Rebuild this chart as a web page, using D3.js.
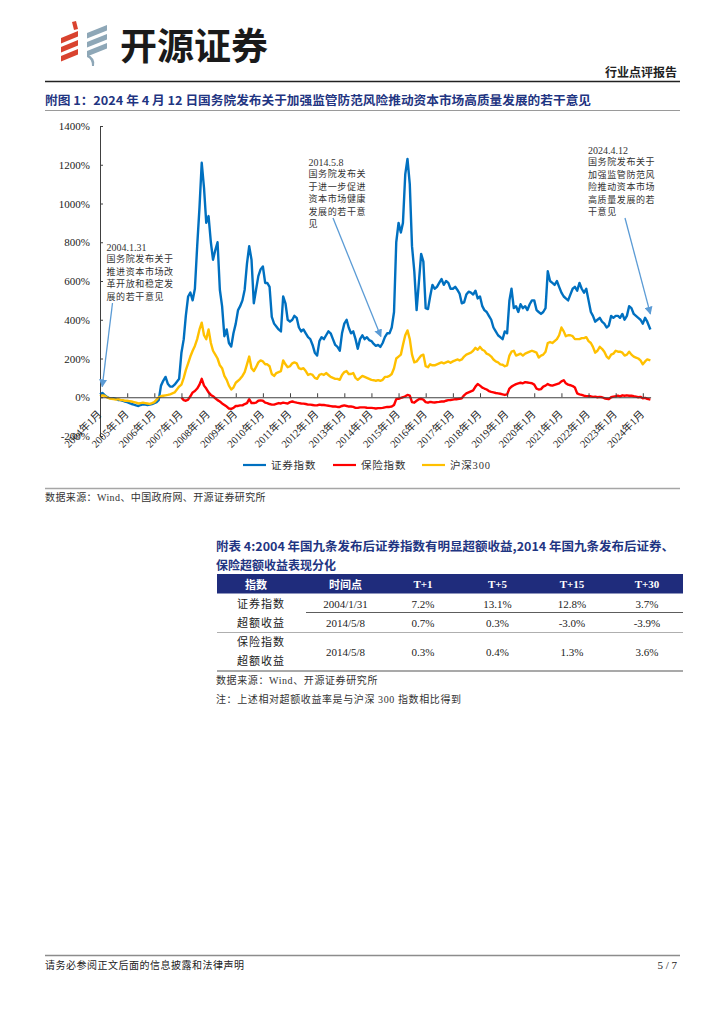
<!DOCTYPE html>
<html>
<head>
<meta charset="utf-8">
<script src="https://cdn.jsdelivr.net/npm/d3@7"></script>
<style>
    body { margin: 0; background: #fff; }
    svg { display: block; }
    text { font-family: "Liberation Serif", "Noto Sans CJK SC", serif; fill: #222; }
    .hei { font-family: "Noto Sans CJK SC", sans-serif; }
</style>
</head>
<body>
<div id="wrapper"></div>
<script>
// monthly readings (%), 2004-01 .. 2024-04
const monthStart = new Date(2004, 0, 1);
const lastDay = new Date(2024, 3, 12);

const securitiesIndex = [
    15, 22, 12, 2, -3, -6, -5, -8, -14, -15, -18, -22,          // 2004
    -25, -30, -35, -38, -42, -45, -40, -36, -38, -40, -38, -35, // 2005
    -30, -25, -15, 60, 85, 105, 70, 55, 55, 65, 80, 95,         // 2006
    230, 300, 420, 520, 540, 500, 560, 780, 980, 1210, 1080, 900, // 2007
    935, 800, 710, 760, 800, 555, 470, 315, 350, 280, 262, 330, // 2008
    380, 450, 470, 500, 555, 690, 780, 710, 485, 555, 625, 660, // 2009
    675, 590, 590, 570, 415, 380, 365, 350, 340, 520, 485, 400, // 2010
    390, 400, 420, 410, 360, 340, 350, 330, 310, 300, 270, 230, // 2011
    215, 290, 310, 300, 320, 340, 330, 300, 270, 260, 240, 330, // 2012
    380, 400, 360, 330, 340, 300, 250, 300, 320, 300, 310, 295, // 2013
    290, 275, 265, 270, 260, 280, 310, 330, 330, 360, 440, 800, // 2014
    900, 850, 900, 1150, 1230, 1100, 780, 650, 450, 590, 740, 700, // 2015
    460, 455, 520, 580, 560, 570, 590, 610, 580, 600, 590, 560, // 2016
    560, 570, 555, 535, 485, 490, 530, 545, 540, 530, 550, 510, // 2017
    520, 470, 450, 440, 420, 400, 360, 340, 320, 310, 300, 340, // 2018
    330, 500, 560, 460, 470, 440, 480, 460, 470, 450, 480, 500, // 2019
    500, 450, 440, 430, 440, 460, 650, 600, 590, 580, 600, 570, // 2020
    540, 520, 510, 500, 530, 560, 570, 550, 590, 560, 540, 560, // 2021
    500, 440, 420, 390, 400, 410, 390, 380, 360, 370, 420, 410, // 2022
    420, 420, 410, 430, 400, 420, 470, 460, 430, 420, 410, 400, // 2023
    380, 410, 390, 350                                          // 2024
];

// insurance index starts 2007-01
const insuranceOffset = 36;
const insuranceIndex = [
    -2, -15, -18, -12, 5, 25, 32, 45, 65, 95, 60, 45,           // 2007
    25, 12, 5, -5, -15, -22, -32, -40, -48, -58, -60, -55,      // 2008
    -45, -45, -42, -42, -35, -30, -10, -30, -30, -28, -18, -16, // 2009
    -18, -28, -30, -35, -38, -38, -34, -30, -32, -28, -30, -32, // 2010
    -25, -22, -25, -28, -30, -32, -33, -35, -38, -38, -40, -42, // 2011
    -42, -38, -40, -40, -42, -44, -46, -48, -48, -50, -50, -45, // 2012
    -42, -45, -48, -48, -50, -55, -55, -52, -52, -52, -54, -55, // 2013
    -55, -56, -58, -56, -56, -55, -52, -50, -50, -48, -40, -10, // 2014
    -8, -3, 0, 5, 12, 8, -25, -28, -18, -10, -8, -12,           // 2015
    -25, -28, -24, -26, -27, -25, -24, -22, -22, -18, -15, -14, // 2016
    -12, -10, -10, -8, -5, 10, 20, 25, 30, 35, 55, 68,          // 2017
    60, 50, 45, 40, 32, 28, 25, 22, 20, 18, 15, 12,             // 2018
    15, 45, 55, 62, 68, 72, 75, 72, 78, 76, 74, 72,             // 2019
    65, 45, 40, 42, 55, 60, 68, 62, 60, 64, 68, 72,             // 2020
    82, 88, 72, 65, 62, 58, 50, 20, 15, 12, 8, 6,               // 2021
    5, 5, 2, 3, 0, 2, 0, -5, -8, -10, 0, 3,                     // 2022
    5, 8, 5, 10, 8, 10, 8, 8, 5, 3, 0, 2,                       // 2023
    -5, -3, -8, -12                                             // 2024
];

const hs300Index = [
    5, 10, 8, 0, -5, -8, -10, -12, -10, -14, -15, -18,          // 2004
    -18, -20, -22, -25, -28, -32, -30, -28, -30, -32, -34, -30, // 2005
    -25, -12, 0, 5, 8, 10, 12, 15, 20, 25, 40, 55,              // 2006
    65, 100, 140, 175, 210, 240, 265, 300, 350, 385, 320, 300,  // 2007
    350, 280, 240, 220, 200, 165, 150, 110, 90, 60, 40, 50,     // 2008
    75, 85, 95, 110, 130, 170, 210, 150, 135, 155, 180, 190,    // 2009
    185, 170, 170, 160, 120, 110, 125, 130, 135, 190, 170, 155, // 2010
    160, 175, 180, 175, 150, 145, 150, 135, 115, 120, 115, 100, // 2011
    95, 115, 120, 115, 125, 115, 105, 100, 95, 95, 90, 115,     // 2012
    130, 135, 120, 120, 125, 100, 90, 100, 110, 105, 100, 95,   // 2013
    90, 88, 85, 88, 85, 90, 105, 105, 110, 120, 150, 200,       // 2014
    210, 220, 270, 320, 345, 300, 220, 180, 185, 200, 215, 220, // 2015
    160, 155, 170, 165, 165, 170, 175, 180, 175, 180, 185, 178, // 2016
    185, 190, 195, 190, 195, 210, 220, 225, 230, 240, 255, 245, // 2017
    260, 245, 240, 225, 220, 210, 195, 185, 180, 170, 168, 160, // 2018
    165, 215, 235, 240, 215, 220, 225, 215, 225, 230, 235, 240, // 2019
    235, 230, 205, 215, 220, 235, 280, 285, 280, 290, 300, 320, // 2020
    360, 340, 315, 320, 320, 315, 300, 300, 300, 305, 305, 310, // 2021
    290, 280, 260, 230, 240, 260, 250, 235, 210, 200, 220, 225, // 2022
    240, 235, 235, 230, 215, 220, 235, 220, 210, 205, 200, 190, // 2023
    170, 185, 195, 190                                          // 2024
];

const seriesNames = ['证券指数', '保险指数', '沪深300'];
const seriesColors = ['#0070c0', '#ff0000', '#ffc000'];

const yTicks = [-200, 0, 200, 400, 600, 800, 1000, 1200, 1400];
const xTickYears = d3.range(2004, 2025);

const annotationDates = ['2004-01-31', '2014-05-08', '2024-04-12'];
const annotationValues = [55, 313, 430];
const annotationTexts = [
    ['2004.1.31', '国务院发布关于', '推进资本市场改', '革开放和稳定发', '展的若干意见'],
    ['2014.5.8', '国务院发布关', '于进一步促进', '资本市场健康', '发展的若干意', '见'],
    ['2024.4.12', '国务院发布关于', '加强监管防范风', '险推动资本市场', '高质量发展的若', '干意见']
];

const tableHeader = ['指数', '时间点', 'T+1', 'T+5', 'T+15', 'T+30'];
const tableGroupNames = [['证券指数', '超额收益'], ['保险指数', '超额收益']];
const tableGroupRows = [
    [['2004/1/31', '7.2%', '13.1%', '12.8%', '3.7%'],
     ['2014/5/8', '0.7%', '0.3%', '-3.0%', '-3.9%']],
    [['2014/5/8', '0.3%', '0.4%', '1.3%', '3.6%']]
];

function drawChart() {

    const width = 724;
    const height = 1024;

    const svg = d3.select('#wrapper').append('svg')
        .attr('width', width)
        .attr('height', height);

    // ---- page header
    const logo = svg.append('g');
    const red = '#d9432f';
    const grey = '#8ea7b7';
    logo.append('path')
        .attr('d', 'M72,22 L76,21 L78,29 L74,30 Z')
        .attr('fill', red);
    [0, 1, 2].forEach(i => {
        const o = i * 9;
        logo.append('path')
            .attr('d', `M61,${38 + o} L78,${31 + o} L78,${36.5 + o} L61,${43.5 + o} Z`)
            .attr('fill', red);
        logo.append('path')
            .attr('d', `M87,${33 + o} L107,${25 + o} L107,${30.5 + o} L87,${38.5 + o} Z`)
            .attr('fill', grey);
    });
    logo.append('path')
        .attr('d', 'M87,54 Q96,58 94,66 L92,66 Q92,59 87,57 Z')
        .attr('fill', grey);

    svg.append('text')
        .attr('class', 'hei')
        .attr('x', 120)
        .attr('y', 59.5)
        .style('font-size', '37px')
        .style('font-weight', 700)
        .style('fill', '#1a1a1a')
        .text('开源证券');

    svg.append('text')
        .attr('class', 'hei')
        .attr('x', 677)
        .attr('y', 77)
        .attr('text-anchor', 'end')
        .style('font-size', '12px')
        .style('font-weight', 700)
        .text('行业点评报告');

    svg.append('line')
        .attr('x1', 45).attr('x2', 680)
        .attr('y1', 81.5).attr('y2', 81.5)
        .attr('stroke', '#222')
        .attr('stroke-width', 1.4);

    const navy = '#1f3582';

    svg.append('text')
        .attr('class', 'hei')
        .attr('x', 45)
        .attr('y', 104.5)
        .attr('textLength', 546)
        .attr('lengthAdjust', 'spacingAndGlyphs')
        .style('font-size', '12px')
        .style('font-weight', 700)
        .style('fill', navy)
        .text('附图 1：2024 年 4 月 12 日国务院发布关于加强监管防范风险推动资本市场高质量发展的若干意见');

    svg.append('line')
        .attr('x1', 45).attr('x2', 680)
        .attr('y1', 110.5).attr('y2', 110.5)
        .attr('stroke', '#9a9a9a')
        .attr('stroke-width', 1);

    // ---- chart
    const months = d3.timeMonth.range(monthStart, new Date(2024, 4, 1));
    months[months.length - 1] = lastDay;

    const seriesData = [
        securitiesIndex.map((v, i) => ({ date: months[i], value: v })),
        insuranceIndex.map((v, i) => ({ date: months[i + insuranceOffset], value: v })),
        hs300Index.map((v, i) => ({ date: months[i], value: v }))
    ];

    const xScale = d3.scaleTime()
        .domain([monthStart, new Date(2024, 3, 15)])
        .range([100, 650.6]);

    const yScale = d3.scaleLinear()
        .domain([-200, 1400])
        .range([436, 126]);

    const axisColor = '#404040';

    const yAxis = svg.append('g')
        .attr('transform', 'translate(100,0)')
        .call(d3.axisLeft(yScale)
            .tickValues(yTicks)
            .tickSizeInner(-3)
            .tickSizeOuter(0)
            .tickPadding(10)
            .tickFormat(d => d + '%'));
    yAxis.selectAll('path, line').attr('stroke', axisColor);
    yAxis.selectAll('text')
        .style('font-size', '11px')
        .style('font-family', '"Liberation Serif", serif')
        .style('fill', '#222');

    const lineGenerator = d3.line()
        .x(d => xScale(d.date))
        .y(d => yScale(d.value));

    seriesData.forEach((data, i) => {
        svg.append('path')
            .attr('fill', 'none')
            .attr('stroke', seriesColors[i])
            .attr('stroke-width', 2.4)
            .attr('stroke-linejoin', 'round')
            .attr('d', lineGenerator(data));
    });

    const xAxis = svg.append('g')
        .attr('transform', `translate(0,${yScale(0)})`)
        .call(d3.axisBottom(xScale)
            .tickValues(xTickYears.map(y => new Date(y, 0, 1)))
            .tickSizeInner(-4)
            .tickSizeOuter(0)
            .tickFormat(d => d.getFullYear() + '年1月'));
    xAxis.selectAll('path, line').attr('stroke', axisColor);
    xAxis.selectAll('text')
        .attr('x', 0)
        .attr('y', 0)
        .attr('dy', '0.35em')
        .attr('transform', 'translate(-1,15) rotate(-45)')
        .style('text-anchor', 'end')
        .style('font-size', '10.5px')
        .style('fill', '#222');

    // ---- annotations
    const arrowColor = '#5b9bd5';
    svg.append('defs').append('marker')
        .attr('id', 'arrow-head')
        .attr('viewBox', '0 0 10 10')
        .attr('refX', 9)
        .attr('refY', 5)
        .attr('markerWidth', 8)
        .attr('markerHeight', 8)
        .attr('markerUnits', 'userSpaceOnUse')
        .attr('orient', 'auto')
        .append('path')
        .attr('d', 'M0,0 L10,5 L0,10 Z')
        .attr('fill', arrowColor);

    const annotationBoxes = [
        { x: 106.5, y: 247, ax: 112.5, ay: 303 },
        { x: 308.5, y: 162, ax: 333, ay: 218 },
        { x: 588, y: 150, ax: 625, ay: 218 }
    ];
    const parseDay = d3.timeParse('%Y-%m-%d');

    annotationTexts.forEach((lines, i) => {
        const box = annotationBoxes[i];
        const g = svg.append('g');
        lines.forEach((t, j) => {
            g.append('text')
                .attr('x', box.x)
                .attr('y', box.y + j * 12.4)
                .attr('dominant-baseline', 'central')
                .style('font-size', j === 0 ? '10px' : '9px')
                .style('letter-spacing', j === 0 ? '0px' : '0.6px')
                .style('fill', '#333')
                .text(t);
        });
        svg.append('line')
            .attr('x1', box.ax)
            .attr('y1', box.ay)
            .attr('x2', xScale(parseDay(annotationDates[i])))
            .attr('y2', yScale(annotationValues[i]))
            .attr('stroke', arrowColor)
            .attr('stroke-width', 1.3)
            .attr('marker-end', 'url(#arrow-head)');
    });

    // ---- legend
    const legendX = [243, 333, 422];
    seriesNames.forEach((name, i) => {
        const lg = svg.append('g').attr('transform', `translate(${legendX[i]},465)`);
        lg.append('line')
            .attr('x1', 0).attr('x2', 23)
            .attr('stroke', seriesColors[i])
            .attr('stroke-width', 2.2);
        lg.append('text')
            .attr('x', 28)
            .attr('dominant-baseline', 'central')
            .style('font-size', '10.5px')
            .style('letter-spacing', '0.8px')
            .style('fill', '#333')
            .text(name);
    });

    svg.append('line')
        .attr('x1', 45).attr('x2', 680)
        .attr('y1', 488.5).attr('y2', 488.5)
        .attr('stroke', '#a6a6a6')
        .attr('stroke-width', 1.6);

    svg.append('text')
        .attr('x', 45)
        .attr('y', 497)
        .attr('dominant-baseline', 'central')
        .style('font-size', '10px')
        .style('letter-spacing', '0.4px')
        .style('fill', '#333')
        .text('数据来源：Wind、中国政府网、开源证券研究所');

    // ---- table
    svg.append('text')
        .attr('class', 'hei')
        .attr('x', 216)
        .attr('y', 551)
        .attr('textLength', 458)
        .attr('lengthAdjust', 'spacingAndGlyphs')
        .style('font-size', '12px')
        .style('font-weight', 700)
        .style('fill', navy)
        .text('附表 4:2004 年国九条发布后证券指数有明显超额收益,2014 年国九条发布后证券、');
    svg.append('text')
        .attr('class', 'hei')
        .attr('x', 216)
        .attr('y', 569.5)
        .style('font-size', '12px')
        .style('font-weight', 700)
        .style('fill', navy)
        .text('保险超额收益表现分化');

    const tableLeft = 217;
    const tableRight = 683;
    const colCenters = [261, 345.5, 423, 497.5, 572, 647];

    svg.append('rect')
        .attr('x', tableLeft)
        .attr('y', 574)
        .attr('width', tableRight - tableLeft)
        .attr('height', 19.5)
        .attr('fill', '#1f2c7c');

    tableHeader.forEach((h, i) => {
        svg.append('text')
            .attr('class', /T/.test(h) ? null : 'hei')
            .attr('x', i === 0 ? 256 : colCenters[i])
            .attr('y', 584)
            .attr('text-anchor', 'middle')
            .attr('dominant-baseline', 'central')
            .style('font-size', '11px')
            .style('font-weight', 700)
            .style('fill', '#fff')
            .text(h);
    });

    const rowTops = [[594, 613], [633]];
    const rowHeight = 19;
    const groupHeights = [38.5, 38];
    const cellText = (x, y, t) => svg.append('text')
        .attr('x', x)
        .attr('y', y)
        .attr('text-anchor', 'middle')
        .attr('dominant-baseline', 'central')
        .style('font-size', '11px')
        .style('fill', '#222')
        .text(t);

    tableGroupRows.forEach((rows, gi) => {
        const top = rowTops[gi][0];
        if (rows.length === 2) {
            tableGroupNames[gi].forEach((n, k) =>
                cellText(colCenters[0], top + rowHeight / 2 + k * rowHeight, n)
                    .style('letter-spacing', '1px'));
        } else {
            tableGroupNames[gi].forEach((n, k) =>
                cellText(colCenters[0], top + 8.5 + k * 19.5, n)
                    .style('letter-spacing', '1px'));
        }
        rows.forEach((row, ri) => {
            const cy = rows.length === 2
                ? rowTops[gi][ri] + rowHeight / 2
                : top + groupHeights[gi] / 2;
            row.forEach((v, ci) => cellText(colCenters[ci + 1], cy, v));
        });
    });

    svg.append('line')
        .attr('x1', 306).attr('x2', tableRight)
        .attr('y1', 612.5).attr('y2', 612.5)
        .attr('stroke', '#333')
        .attr('stroke-width', 0.8);
    svg.append('line')
        .attr('x1', tableLeft).attr('x2', tableRight)
        .attr('y1', 632.5).attr('y2', 632.5)
        .attr('stroke', '#9a9a9a')
        .attr('stroke-width', 0.8);
    svg.append('line')
        .attr('x1', tableLeft).attr('x2', tableRight)
        .attr('y1', 671).attr('y2', 671)
        .attr('stroke', '#555')
        .attr('stroke-width', 1.2);

    svg.append('text')
        .attr('x', 216)
        .attr('y', 680.5)
        .attr('dominant-baseline', 'central')
        .style('font-size', '10px')
        .style('letter-spacing', '0.6px')
        .style('fill', '#333')
        .text('数据来源：Wind、开源证券研究所');
    svg.append('text')
        .attr('x', 216)
        .attr('y', 699.5)
        .attr('dominant-baseline', 'central')
        .style('font-size', '10px')
        .style('letter-spacing', '0.6px')
        .style('fill', '#333')
        .text('注：上述相对超额收益率是与沪深 300 指数相比得到');

    // ---- footer
    svg.append('line')
        .attr('x1', 45).attr('x2', 680)
        .attr('y1', 955.5).attr('y2', 955.5)
        .attr('stroke', '#8c8c8c')
        .attr('stroke-width', 1.6);
    svg.append('text')
        .attr('x', 45)
        .attr('y', 965)
        .attr('dominant-baseline', 'central')
        .style('font-size', '10px')
        .style('letter-spacing', '0.5px')
        .style('fill', '#222')
        .text('请务必参阅正文后面的信息披露和法律声明');
    svg.append('text')
        .attr('x', 677)
        .attr('y', 965)
        .attr('text-anchor', 'end')
        .attr('dominant-baseline', 'central')
        .style('font-size', '11px')
        .style('fill', '#222')
        .text('5 / 7');
}

drawChart();
</script>
</body>
</html>
